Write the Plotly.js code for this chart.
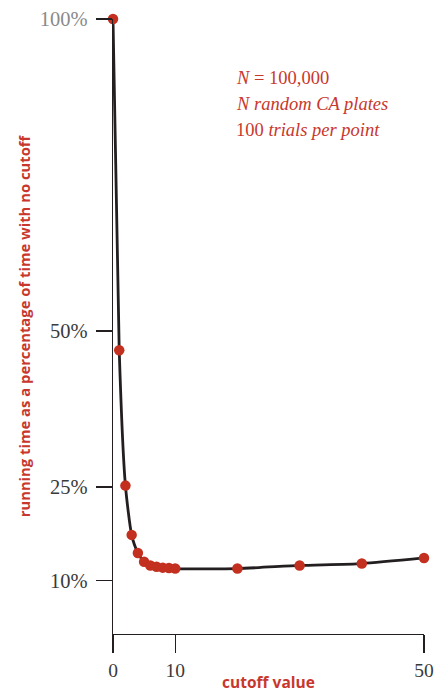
<!DOCTYPE html>
<html>
<head>
<meta charset="utf-8">
<script src="https://cdn.plot.ly/plotly-3.0.1.min.js"></script>
<style>html,body{margin:0;padding:0;background:#fff;}#chart{width:446px;height:693px;}</style>
</head>
<body>
<div id="chart"></div>
<script>
// Data
const cutoff = [0, 1, 2, 3, 4, 5, 6, 7, 8, 9, 10, 20, 30, 40, 50];
const runningPct = [100, 46.9, 25.2, 17.3, 14.4, 13.0, 12.4, 12.2, 12.05, 12.0, 11.9, 11.9, 12.4, 12.7, 13.6];

const xTickVals = [0, 10, 50];
const xTickText = ['0', '10', '50'];
const yTickVals = [10, 25, 50, 100];
const yTickText = ['10%', '25%', '50%', '<span style="color:#8a8a8a">100%</span>'];

const noteLines = ['<i>N</i> = 100,000', '<i>N random CA plates</i>', '100 <i>trials per point</i>'];

const RED = '#c3301f';
const INK = '#231f20';

const trace = {
  x: cutoff,
  y: runningPct,
  type: 'scatter',
  mode: 'lines+markers',
  line: {color: INK, width: 2.8, shape: 'spline', smoothing: 0.6},
  marker: {color: RED, size: 10.5},
  cliponaxis: false,
  hoverinfo: 'skip'
};

const annotations = noteLines.map((t, i) => ({
  text: t,
  xref: 'paper', yref: 'paper',
  x: 0.388, y: 0.904 - i * 0.0425,
  xanchor: 'left', yanchor: 'middle',
  showarrow: false,
  font: {family: 'Liberation Serif', size: 18.5, color: '#c8372d'}
}));

const layout = {
  width: 446, height: 693,
  margin: {l: 113, r: 22, t: 19, b: 59},
  paper_bgcolor: '#fff', plot_bgcolor: '#fff',
  showlegend: false,
  xaxis: {
    range: [0, 50],
    tickvals: xTickVals, ticktext: xTickText,
    ticks: 'outside', ticklen: 18, tickwidth: 1.3, tickcolor: INK,
    showline: true, linecolor: INK, linewidth: 1.3,
    showgrid: false, zeroline: false,
    tickfont: {family: 'Liberation Serif', size: 19.5, color: '#3a3a3a'},
    title: {text: '<b>cutoff value</b>', font: {family: 'Open Sans', size: 15.5, color: '#c8372d'}, standoff: 2}
  },
  yaxis: {
    range: [1.41, 100],
    tickvals: yTickVals, ticktext: yTickText,
    ticks: 'outside', ticklen: 16, tickwidth: 1.3, tickcolor: INK,
    ticklabelstandoff: 4,
    showline: true, linecolor: INK, linewidth: 1.3,
    showgrid: false, zeroline: false,
    tickfont: {family: 'Liberation Serif', size: 20.5, color: '#3a3a3a'},
    title: {text: '<b>running time as a percentage of time with no cutoff</b>', font: {family: 'Open Sans', size: 14.8, color: '#c8372d'}, standoff: 5}
  },
  annotations: annotations
};

Plotly.newPlot('chart', [trace], layout, {staticPlot: true, displayModeBar: false});
</script>
</body>
</html>
